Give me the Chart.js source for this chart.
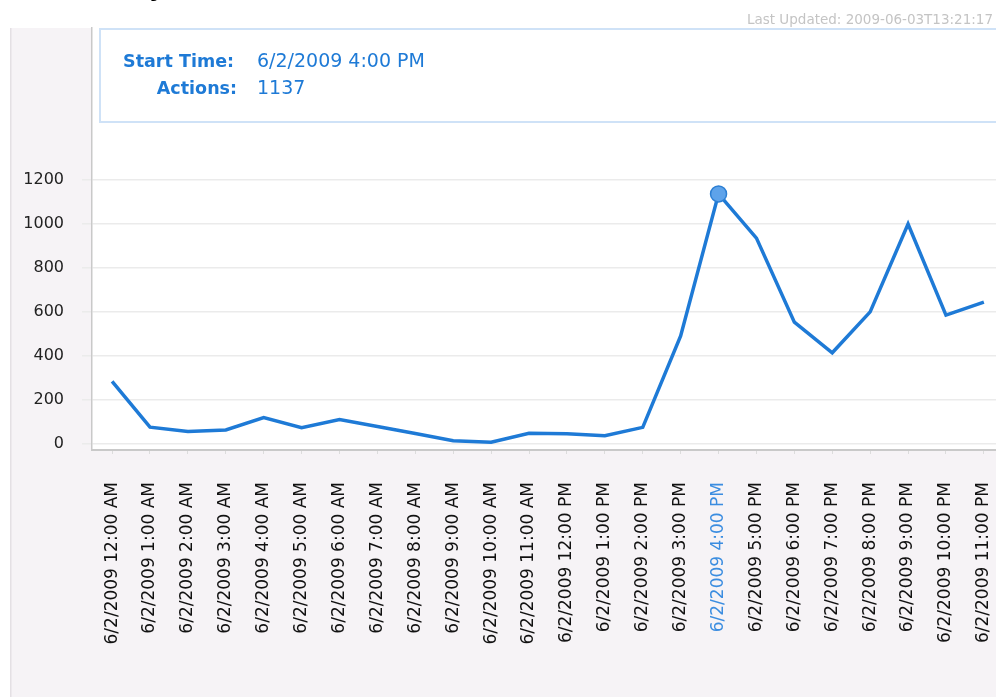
<!DOCTYPE html>
<html>
<head>
<meta charset="utf-8">
<script src="https://cdn.jsdelivr.net/npm/chart.js@4/dist/chart.umd.min.js"></script>
<style>
  html, body { margin: 0; padding: 0; background: #fff; }
  #wrap { position: relative; width: 996px; height: 697px; }
</style>
</head>
<body>
<div id="wrap"><canvas id="actionsChart"></canvas></div>
<script>
const hourLabels = [
  "6/2/2009 12:00 AM", "6/2/2009 1:00 AM", "6/2/2009 2:00 AM", "6/2/2009 3:00 AM",
  "6/2/2009 4:00 AM", "6/2/2009 5:00 AM", "6/2/2009 6:00 AM", "6/2/2009 7:00 AM",
  "6/2/2009 8:00 AM", "6/2/2009 9:00 AM", "6/2/2009 10:00 AM", "6/2/2009 11:00 AM",
  "6/2/2009 12:00 PM", "6/2/2009 1:00 PM", "6/2/2009 2:00 PM", "6/2/2009 3:00 PM",
  "6/2/2009 4:00 PM", "6/2/2009 5:00 PM", "6/2/2009 6:00 PM", "6/2/2009 7:00 PM",
  "6/2/2009 8:00 PM", "6/2/2009 9:00 PM", "6/2/2009 10:00 PM", "6/2/2009 11:00 PM"
];
const actions = [285, 77, 57, 64, 120, 74, 112, 80, 48, 15, 8, 49, 47, 38, 76, 491, 1137, 936, 554, 415, 601, 1000, 586, 645];
const yTicks = [0, 200, 400, 600, 800, 1000, 1200];
const activeIndex = 16;
const lastUpdated = "Last Updated: 2009-06-03T13:21:17";

const FONT = "'DejaVu Sans', Verdana, sans-serif";
const BLUE = "#1e7ad6";

// page panel + plot background
const backdrop = {
  id: "backdrop",
  beforeDraw(chart) {
    const { ctx, chartArea: a } = chart;
    ctx.save();
    ctx.fillStyle = "#ffffff";
    ctx.fillRect(0, 0, chart.width, chart.height);
    ctx.fillStyle = "#f6f3f6";
    ctx.fillRect(10, a.top, chart.width - 10, chart.height - a.top);
    ctx.fillStyle = "#e4e0e4";
    ctx.fillRect(10, a.top, 1.5, chart.height - a.top);
    ctx.fillStyle = "#ffffff";
    ctx.fillRect(a.left, a.top, a.right - a.left, a.bottom - a.top);
    // descender of the cut-off heading
    ctx.fillStyle = "#000";
    ctx.font = "bold 24px " + FONT;
    ctx.textBaseline = "alphabetic";
    ctx.fillText("y", 149, -4);
    ctx.restore();
  }
};

// fixed info box for the highlighted point
const infoBox = {
  id: "infoBox",
  afterDraw(chart) {
    const { ctx } = chart;
    ctx.save();
    ctx.fillStyle = "#ffffff";
    ctx.fillRect(100, 29, 900, 93);
    ctx.strokeStyle = "#cfe2f7";
    ctx.lineWidth = 2;
    ctx.strokeRect(100, 29, 900, 93);

    ctx.textBaseline = "alphabetic";
    ctx.fillStyle = BLUE;
    ctx.textAlign = "right";
    ctx.font = "bold 17.5px " + FONT;
    ctx.fillText("Start Time:", 234, 67);
    ctx.fillText("Actions:", 237, 94);
    ctx.textAlign = "left";
    ctx.font = "19px " + FONT;
    ctx.fillText(hourLabels[activeIndex], 257, 67);
    ctx.fillText(String(actions[activeIndex]), 257, 94);

    ctx.fillStyle = "#c4c4c4";
    ctx.textAlign = "right";
    ctx.font = "13.5px " + FONT;
    ctx.fillText(lastUpdated, 993, 24);
    ctx.restore();
  }
};

const ctx = document.getElementById("actionsChart").getContext("2d");
new Chart(ctx, {
  type: "line",
  data: {
    datasets: [{
      label: "Actions",
      data: actions.map((v, i) => ({ x: i, y: v })),
      borderColor: BLUE,
      borderWidth: 3.5,
      tension: 0,
      fill: false,
      pointRadius: c => (c.dataIndex === activeIndex ? 8 : 0),
      pointBackgroundColor: "#5ea3ea",
      pointBorderColor: "#2c7fd3",
      pointBorderWidth: 1.5,
      pointHoverRadius: c => (c.dataIndex === activeIndex ? 8 : 0)
    }]
  },
  options: {
    responsive: true,
    maintainAspectRatio: false,
    animation: false,
    events: [],
    layout: { padding: { top: 28, left: 0, right: 0, bottom: 0 } },
    plugins: {
      legend: { display: false },
      tooltip: { enabled: false }
    },
    scales: {
      x: {
        type: "linear",
        min: -0.53,
        max: 23.32,
        afterBuildTicks: axis => { axis.ticks = hourLabels.map((_, i) => ({ value: i })); },
        afterFit: axis => {
          axis.height = 247;
          axis.paddingLeft = 0;
          axis.paddingRight = 0;
        },
        grid: { drawOnChartArea: false, drawTicks: true, tickLength: 4, color: "#dcdcdc" },
        border: { color: "#c9c9c9", width: 2 },
        ticks: {
          autoSkip: false,
          minRotation: 90,
          maxRotation: 90,
          padding: 28,
          color: c => (c.index === activeIndex ? "#3b8de0" : "#111"),
          font: { family: FONT, size: 17 },
          callback: v => hourLabels[v]
        }
      },
      y: {
        min: -27,
        max: 1891,
        afterBuildTicks: axis => { axis.ticks = yTicks.map(v => ({ value: v })); },
        afterFit: axis => {
          axis.width = 92;
          axis.paddingTop = 0;
          axis.paddingBottom = 0;
        },
        grid: { color: "#ebebeb", lineWidth: 1.5, drawTicks: true, tickLength: 10 },
        border: { color: "#c9c9c9", width: 1.5 },
        ticks: {
          padding: 18,
          color: "#222",
          font: { family: FONT, size: 16 },
          callback: v => String(v)
        }
      }
    }
  },
  plugins: [backdrop, infoBox]
});
</script>
</body>
</html>
